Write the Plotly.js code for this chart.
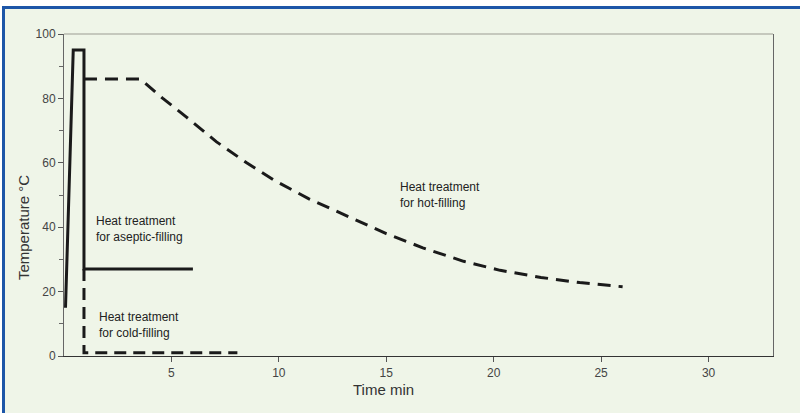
<!DOCTYPE html>
<html>
<head>
<meta charset="utf-8">
<script src="https://cdn.plot.ly/plotly-3.0.1.min.js"></script>
<style>
  html, body { margin: 0; padding: 0; background: #ffffff; }
  #wrap { position: relative; width: 800px; height: 413px; overflow: hidden; }
  #chart { position: absolute; left: 0; top: 0; width: 800px; height: 413px; }
  .frame-top { position: absolute; left: 0; top: 0; width: 800px; height: 6px; background: #ffffff; pointer-events: none; }
  .frame-top-blue { position: absolute; left: 2px; top: 6px; width: 798px; height: 2.5px; background: #1d56a8; pointer-events: none; }
  .frame-left { position: absolute; left: 0; top: 6px; width: 2px; height: 407px; background: #ffffff; pointer-events: none; }
  .frame-left-blue { position: absolute; left: 2px; top: 6px; width: 3px; height: 407px; background: #1d56a8; pointer-events: none; }
</style>
</head>
<body>
<div id="wrap">
  <div id="chart"></div>
  <div class="frame-top"></div>
  <div class="frame-left"></div>
  <div class="frame-top-blue"></div>
  <div class="frame-left-blue"></div>
</div>
<script>
// Heat treatment for aseptic-filling (solid)
const asepticTime = [0.07, 0.43, 0.93, 0.93, 6.0];
const asepticTemp = [15, 95, 95, 27, 27];

// Heat treatment for hot-filling (dashed)
const hotTime = [0.93, 3.56, 4.6, 5.7, 7.1, 8.5, 9.8, 11.4, 13.5, 15.0, 16.7, 18.6, 20.3, 22.2, 24.0, 26.0];
const hotTemp = [86, 86, 80, 74.2, 66.5, 60, 54.5, 48.8, 42.5, 38.0, 33.6, 29.4, 26.6, 24.4, 22.8, 21.5];

// Heat treatment for cold-filling (dashed)
const coldTime = [0.93, 0.93, 8.07];
const coldTemp = [27, 1, 1];

const xTickVals = [5, 10, 15, 20, 25, 30];
const xTickText = ['5', '10', '15', '20', '25', '30'];
const yTickVals = [0, 20, 40, 60, 80, 100];
const yTickText = ['0', '20', '40', '60', '80', '100'];

const labelAseptic = 'Heat treatment<br>for aseptic-filling';
const labelCold = 'Heat treatment<br>for cold-filling';
const labelHot = 'Heat treatment<br>for hot-filling';

const lineColor = '#1a1a1a';
const font = 'Liberation Sans, Arial, Helvetica, sans-serif';

const traces = [
  { x: asepticTime, y: asepticTemp, mode: 'lines', name: 'aseptic-filling',
    line: { color: lineColor, width: 3 }, hoverinfo: 'skip' },
  { x: hotTime, y: hotTemp, mode: 'lines', name: 'hot-filling',
    line: { color: lineColor, width: 3, dash: '13px,8px' }, hoverinfo: 'skip' },
  { x: coldTime, y: coldTemp, mode: 'lines', name: 'cold-filling',
    line: { color: lineColor, width: 3, dash: '12px,7px' }, hoverinfo: 'skip' }
];

const layout = {
  width: 800, height: 413,
  margin: { l: 64, r: 27, t: 34, b: 57 },
  paper_bgcolor: '#eff5e8',
  plot_bgcolor: '#eff5e8',
  showlegend: false,
  font: { family: font, size: 12, color: '#333' },
  xaxis: {
    range: [0, 33], showgrid: false, zeroline: false,
    showline: true, linecolor: '#333', linewidth: 1.2,
    tickmode: 'array', tickvals: xTickVals, ticktext: xTickText,
    ticks: 'outside', ticklen: 5, tickcolor: '#555', tickwidth: 1,
    tickfont: { family: font, size: 12, color: '#444' }
  },
  yaxis: {
    range: [0, 100], showgrid: false, zeroline: false,
    showline: true, linecolor: '#666', linewidth: 1, mirror: true,
    tickmode: 'array', tickvals: yTickVals, ticktext: yTickText,
    ticks: 'outside', ticklen: 5, tickcolor: '#555', tickwidth: 1,
    tickfont: { family: font, size: 12, color: '#444' },
    minor: { dtick: 10, ticks: 'outside', ticklen: 4, tickcolor: '#666', showgrid: false }
  },
  shapes: [
    { type: 'line', xref: 'paper', yref: 'paper', x0: 0, x1: 1, y0: 1, y1: 1,
      line: { color: '#9c9c92', width: 1.2 } }
  ],
  annotations: [
    { x: 1.38, y: 39.3, xref: 'x', yref: 'y', text: labelAseptic, showarrow: false,
      xanchor: 'left', yanchor: 'middle', align: 'left', font: { family: font, size: 12, color: '#222' } },
    { x: 1.52, y: 9.6, xref: 'x', yref: 'y', text: labelCold, showarrow: false,
      xanchor: 'left', yanchor: 'middle', align: 'left', font: { family: font, size: 12, color: '#222' } },
    { x: 15.55, y: 50, xref: 'x', yref: 'y', text: labelHot, showarrow: false,
      xanchor: 'left', yanchor: 'middle', align: 'left', font: { family: font, size: 12, color: '#222' } },
    { x: 0.45, y: -0.104, xref: 'paper', yref: 'paper', text: 'Time min', showarrow: false,
      xanchor: 'center', yanchor: 'middle', font: { family: font, size: 15, color: '#333' } },
    { x: -0.058, y: 0.40, xref: 'paper', yref: 'paper', text: 'Temperature °C', showarrow: false,
      textangle: -90, xanchor: 'center', yanchor: 'middle', font: { family: font, size: 15, color: '#333' } }
  ]
};

Plotly.newPlot('chart', traces, layout, { displayModeBar: false, staticPlot: true });
</script>
</body>
</html>
